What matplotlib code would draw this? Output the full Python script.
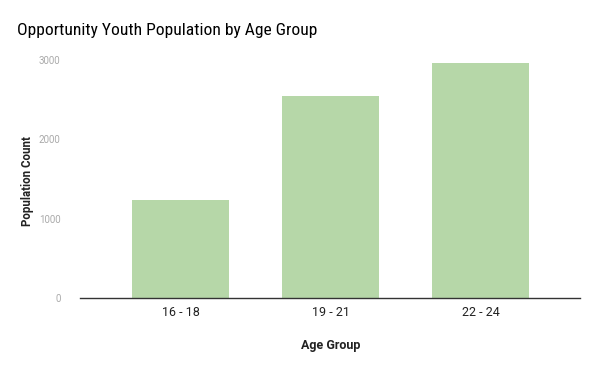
import matplotlib
matplotlib.use("Agg")
import matplotlib.pyplot as plt

plt.rcParams['font.family'] = ['Roboto', 'DejaVu Sans']

categories = ["16 - 18", "19 - 21", "22 - 24"]
values = [1235, 2545, 2960]
yticks = [0, 1000, 2000, 3000]

fig = plt.figure(figsize=(6, 3.71), dpi=100)
ax = fig.add_axes([80/600, 1 - 298/371, 500/600, 238/371])

x = range(len(categories))
ax.bar(x, values, width=0.647, color="#b6d7a8", zorder=2)

ax.set_xlim(-0.67, 2.66)
ax.set_ylim(0, 3000)
ax.set_yticks(yticks)
ax.set_yticklabels([str(t) for t in yticks], fontsize=7, color="#aaaaaa")
ax.set_xticks(list(x))
ax.set_xticklabels(categories, fontsize=9, color="#222222")
ax.tick_params(axis='y', length=0, pad=14)
ax.tick_params(axis='x', length=0, pad=6)

for s in ['top', 'right', 'left']:
    ax.spines[s].set_visible(False)
ax.spines['bottom'].set_color('#333333')
ax.spines['bottom'].set_linewidth(1)

fig.text(331/600, 1 - 346/371, "Age Group", ha='center', va='center',
         fontsize=9, fontweight='bold', color='#222222')
fig.text(28/600, 1 - 181/371, "Population Count", ha='center', va='center',
         rotation=90, fontsize=8.3, fontweight='bold', color='#222222')
fig.text(17/600, 1 - 30/371, "Opportunity Youth Population by Age Group",
         ha='left', va='center', fontsize=12.6, color='#000000',
         family=['Roboto Condensed', 'Roboto', 'DejaVu Sans'])

fig.savefig("out.png", dpi=100, facecolor='white')
